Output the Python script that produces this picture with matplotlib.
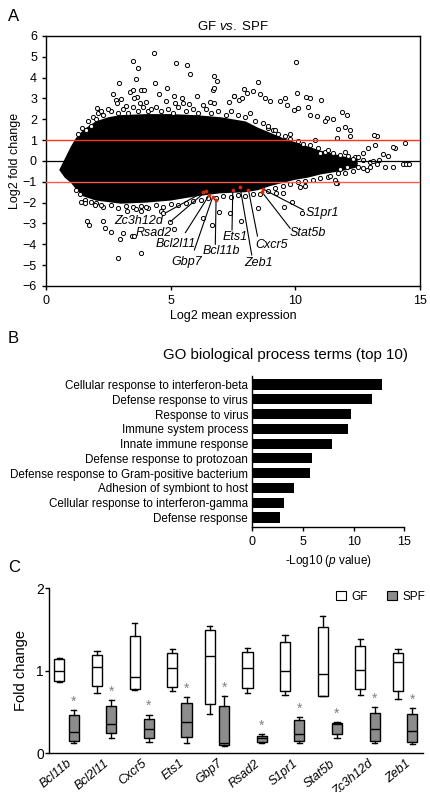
import matplotlib
matplotlib.use("Agg")
import matplotlib.pyplot as plt
from matplotlib.patches import Patch

plt.rcParams['font.family'] = ['Liberation Sans', 'DejaVu Sans']
plt.rcParams['mathtext.fontset'] = 'custom'
plt.rcParams['mathtext.rm'] = 'Liberation Sans'
plt.rcParams['mathtext.it'] = 'Liberation Sans:italic'
plt.rcParams['axes.linewidth'] = 1.0

# ---- Panel A: MA plot ----
# dense core of the cloud (outline)
core_x = [0.53, 0.75, 1.0, 1.2, 1.5, 2.0, 2.5, 3.0, 4.0, 5.0, 6.0, 7.0, 7.5, 8.0, 8.5, 9.0, 9.5,
          10.0, 10.5, 11.0, 11.5, 12.0, 12.5,
          12.5, 12.0, 11.5, 11.0, 10.5, 10.0, 9.5, 9.0, 8.5, 8.0, 7.0, 6.0, 5.0, 4.0, 3.0,
          2.0, 1.5, 1.2, 1.0, 0.75]
core_y = [-0.43, 0.1, 0.7, 1.1, 1.5, 1.9, 2.1, 2.2, 2.25, 2.25, 2.2, 2.1, 2.0, 1.9, 1.6, 1.35, 1.1,
          0.9, 0.7, 0.5, 0.35, 0.2, 0.1,
          -0.3, -0.45, -0.55, -0.65, -0.8, -0.9, -1.05, -1.2, -1.4, -1.5, -1.55, -1.7, -1.9,
          -2.0, -2.05, -1.9, -1.7, -1.35, -1.05, -0.8]

# genes along the ragged edge of the cloud
edge_x = [1.3, 1.45, 1.7, 1.9, 2.1, 2.3, 2.6, 2.9, 3.1, 3.3, 3.5, 3.7, 3.9, 4.1, 4.4, 4.6, 4.9, 5.1,
          5.3, 5.6, 5.9, 6.1, 6.4, 6.6, 6.9, 7.2, 7.4, 7.7, 8.0, 8.2, 8.4, 8.7, 8.9, 9.1, 9.3, 9.6,
          9.8, 10.1, 10.3, 10.6, 10.9, 11.2, 11.5, 11.8, 12.1, 12.4, 12.7, 13.0,
          12.7, 12.3, 12.0, 11.7, 11.3, 11.0, 10.7, 10.4, 10.1, 9.8, 9.5, 9.2, 8.9, 8.6, 8.3, 8.0,
          7.7, 7.4, 7.1, 6.8, 6.5, 6.2, 5.9, 5.6, 5.3, 5.0, 4.7, 4.4, 4.1, 3.8, 3.5, 3.2, 2.9, 2.6,
          2.3, 2.0, 1.8, 1.55, 1.35, 1.2]
edge_y = [1.3, 1.6, 1.9, 2.1, 2.3, 2.2, 2.4, 2.3, 2.5, 2.3, 2.6, 2.4, 2.6, 2.4, 2.6, 2.4, 2.5, 2.3,
          2.6, 2.4, 2.5, 2.3, 2.5, 2.3, 2.4, 2.2, 2.4, 2.2, 2.1, 2.3, 1.9, 1.8, 1.6, 1.5, 1.3, 1.2,
          1.05, 0.95, 0.8, 0.75, 0.6, 0.45, 0.4, 0.3, 0.25, 0.2, 0.05, -0.05,
          -0.35, -0.5, -0.6, -0.6, -0.75, -0.8, -0.9, -0.95, -1.0, -1.1, -1.2, -1.3, -1.45, -1.6,
          -1.6, -1.7, -1.65, -1.75, -1.7, -1.8, -1.8, -1.85, -1.9, -2.0, -2.1, -2.05, -2.2, -2.1,
          -2.25, -2.15, -2.2, -2.15, -2.25, -2.1, -2.2, -2.0, -1.95, -1.85, -1.6, -1.4]

# individual genes outside the cloud
pts_x = [4.34, 3.50, 5.21, 5.67, 3.68, 5.78, 3.61, 6.75, 6.84, 2.91, 4.39, 4.87, 6.68, 6.74, 3.37,
         3.50, 3.81, 3.94, 2.67, 3.64, 3.54, 4.52, 6.04, 5.12, 7.53, 2.81, 3.01, 4.81, 5.19, 5.45,
         5.48, 5.75, 6.58, 6.28, 6.75, 7.33, 2.05, 2.47, 2.83, 3.21, 3.78, 4.01, 4.21,
         10.02, 8.49, 7.94, 8.29, 8.08, 7.54, 8.59, 8.79, 10.05, 8.97, 9.37, 9.57, 10.43, 10.59,
         11.02, 9.65, 7.72, 7.85, 9.95, 10.12, 10.5, 10.6, 10.85, 11.25, 11.86, 12.09, 11.5, 11.2,
         11.7, 12.0, 12.2, 12.2, 13.27, 13.2, 14.0, 14.4,
         13.93, 13.17, 13.5, 13.73, 14.3, 14.44, 14.56, 13.26, 13.6, 13.9, 12.73, 12.53, 11.66,
         11.59, 11.66, 11.0, 11.3, 12.06, 12.86, 13.1, 13.35, 12.3, 12.0, 11.8, 12.5, 13.0, 11.4, 12.9,
         2.87, 3.80, 2.97, 3.45, 3.54, 2.61, 2.38, 1.74, 1.63, 2.27, 3.07, 4.97, 5.12, 6.28, 6.64,
         6.93, 4.61, 4.68, 3.81, 4.01, 3.25, 3.61, 2.21, 1.98, 1.40, 1.58,
         10.26, 9.56, 9.85, 8.52, 7.81, 10.19, 10.39, 11.63, 9.24, 9.51, 7.38,
         1.6, 1.8, 2.0, 2.2, 9.2, 9.8, 10.8, 8.9]
pts_y = [5.17, 4.82, 4.72, 4.59, 4.45, 4.19, 3.95, 4.08, 3.84, 3.76, 3.73, 3.52, 3.41, 3.52, 3.33,
         3.41, 3.40, 3.40, 3.22, 3.09, 3.01, 3.20, 3.12, 3.12, 3.12, 2.93, 2.98, 2.90, 2.80, 3.00,
         2.80, 2.75, 2.85, 2.70, 2.80, 2.85, 2.55, 2.50, 2.80, 2.65, 2.80, 2.85, 2.50,
         4.75, 3.81, 3.46, 3.38, 3.25, 3.14, 3.20, 3.04, 3.25, 2.88, 2.90, 3.04, 3.08, 3.04,
         2.93, 2.69, 2.93, 3.00, 2.45, 2.55, 2.60, 2.20, 2.15, 2.05, 2.37, 2.21, 2.00, 1.90,
         1.54, 1.62, 1.49, 1.20, 1.20, 0.77, 0.64, 0.88,
         0.66, 1.25, 0.32, 0.24, -0.16, -0.16, -0.16, -0.14, -0.27, -0.27, 0.37, 0.21, 1.09,
         -0.91, -1.07, 0.37, 0.53, -0.27, -0.43, 0.0, 0.05, 0.1, 0.45, -0.4, -0.3, -0.3, -0.7, 0.6,
         -4.64, -4.40, -3.76, -3.60, -3.60, -3.42, -3.22, -3.09, -2.86, -2.90, -3.47, -2.91, -3.25,
         -2.75, -3.07, -2.43, -2.38, -2.51, -2.40, -2.20, -2.40, -2.30, -2.10, -2.10, -1.95, -2.00,
         -2.51, -2.19, -1.95, -2.27, -2.88, -1.23, -1.20, -1.07, -1.55, -1.55, -2.51,
         1.5, 1.7, 2.0, 2.4, 1.5, 1.3, 1.0, 1.7]

# highlighted genes (red) and their labels
genes = ['Zc3h12d', 'Rsad2', 'Bcl2l11', 'Gbp7', 'Bcl11b', 'Ets1', 'Zeb1', 'Cxcr5', 'Stat5b', 'S1pr1']
gene_x = [6.30, 6.42, 6.55, 6.69, 6.82, 7.49, 7.78, 8.12, 8.65, 8.72]
gene_y = [-1.50, -1.45, -1.63, -1.71, -1.85, -1.40, -1.23, -1.40, -1.47, -1.36]

label_pos = {'Zc3h12d': ((3.71, -2.87), (4.78, -2.50)),
             'Rsad2': ((4.34, -3.47), (5.00, -2.90)),
             'Bcl2l11': ((5.21, -3.98), (5.59, -3.44)),
             'Gbp7': ((5.65, -4.87), (5.95, -4.27)),
             'Bcl11b': ((7.05, -4.30), (6.79, -4.00)),
             'Ets1': ((7.58, -3.66), (7.46, -3.31)),
             'Zeb1': ((8.52, -4.91), (8.25, -4.51)),
             'Cxcr5': ((9.03, -4.03), (8.48, -3.60)),
             'Stat5b': ((10.52, -3.47), (9.79, -3.23)),
             'S1pr1': ((11.10, -2.48), (10.32, -2.35))}

# ---- Panel B: GO terms ----
go_terms = ['Cellular response to interferon-beta', 'Defense response to virus', 'Response to virus',
            'Immune system process', 'Innate immune response', 'Defense response to protozoan',
            'Defense response to Gram-positive bacterium', 'Adhesion of symbiont to host',
            'Cellular response to interferon-gamma', 'Defense response']
go_logp = [12.8, 11.78, 9.74, 9.48, 7.86, 5.86, 5.66, 4.15, 3.16, 2.76]

# ---- Panel C: qPCR box plots ----
qpcr_genes = ['Bcl11b', 'Bcl2l11', 'Cxcr5', 'Ets1', 'Gbp7', 'Rsad2', 'S1pr1', 'Stat5b', 'Zc3h12d', 'Zeb1']
gf_min = [0.87, 0.73, 0.77, 0.76, 0.48, 0.73, 0.71, 0.69, 0.71, 0.66]
gf_q1 = [0.88, 0.81, 0.78, 0.80, 0.60, 0.79, 0.75, 0.70, 0.78, 0.76]
gf_med = [1.00, 1.05, 0.92, 1.03, 1.18, 1.03, 1.00, 0.96, 1.01, 1.11]
gf_q3 = [1.14, 1.19, 1.42, 1.22, 1.50, 1.23, 1.35, 1.53, 1.30, 1.22]
gf_max = [1.16, 1.24, 1.58, 1.26, 1.54, 1.28, 1.43, 1.66, 1.39, 1.26]
spf_min = [0.12, 0.19, 0.14, 0.12, 0.09, 0.12, 0.13, 0.19, 0.13, 0.11]
spf_q1 = [0.15, 0.24, 0.18, 0.20, 0.10, 0.14, 0.15, 0.23, 0.15, 0.14]
spf_med = [0.26, 0.36, 0.30, 0.38, 0.13, 0.18, 0.23, 0.35, 0.30, 0.27]
spf_q3 = [0.47, 0.57, 0.42, 0.61, 0.57, 0.21, 0.40, 0.37, 0.49, 0.48]
spf_max = [0.53, 0.64, 0.47, 0.68, 0.70, 0.23, 0.44, 0.38, 0.56, 0.55]

fig = plt.figure(figsize=(4.3, 7.92), dpi=100)

# ---------------- A ----------------
axA = fig.add_axes([0.107, 0.6389, 0.8698, 0.3157])
axA.fill(core_x, core_y, color='black', lw=0, zorder=1)
axA.scatter(edge_x, edge_y, s=9, facecolors='white', edgecolors='black', linewidths=0.7, zorder=2)
axA.scatter(pts_x, pts_y, s=9, facecolors='white', edgecolors='black', linewidths=0.7, zorder=2)
axA.axhline(0, color='black', lw=0.9, zorder=3)
axA.axhline(1, color='#ff3318', lw=1.0, zorder=3)
axA.axhline(-1, color='#ff5a4a', lw=1.0, zorder=3)
for g in genes:
    (tx, ty), (sx, sy) = label_pos[g]
    i = genes.index(g)
    axA.plot([sx, gene_x[i]], [sy, gene_y[i]], color='black', lw=0.8, zorder=4)
    axA.text(tx, ty, g, style='italic', fontsize=9, ha='center', va='center', zorder=5)
axA.scatter(gene_x, gene_y, s=3, color='#d8280c', zorder=5)
axA.set_xlim(0, 15)
axA.set_ylim(-6, 6)
axA.set_xticks([0, 5, 10, 15])
axA.set_yticks(range(-6, 7))
axA.tick_params(labelsize=9, length=3, width=1)
axA.set_xlabel('Log2 mean expression', fontsize=9, labelpad=2)
axA.set_ylabel('Log2 fold change', fontsize=9, labelpad=1)
axA.set_title(r'GF $\mathit{vs.}$ SPF', fontsize=9.5, pad=4)
fig.text(0.018, 0.979, 'A', fontsize=12, va='center')

# ---------------- B ----------------
axB = fig.add_axes([0.587, 0.335, 0.3535, 0.1907])
axB.barh(range(len(go_terms)), go_logp, height=0.68, color='black')
axB.set_ylim(9.62, -0.6)
axB.set_xlim(0, 15)
axB.set_xticks([0, 5, 10, 15])
axB.set_yticks(range(len(go_terms)))
axB.set_yticklabels(go_terms, fontsize=8.4)
axB.tick_params(axis='y', length=0, pad=3)
axB.tick_params(axis='x', labelsize=9, length=3, width=1)
axB.spines['top'].set_visible(False)
axB.spines['right'].set_visible(False)
axB.set_xlabel(r'-Log10 ($\mathit{p}$ value)', fontsize=8.5, labelpad=4)
fig.text(0.665, 0.552, 'GO biological process terms (top 10)', fontsize=10.8, ha='center', va='center')
fig.text(0.018, 0.573, 'B', fontsize=12, va='center')

# ---------------- C ----------------
axC = fig.add_axes([0.1147, 0.0489, 0.869, 0.2083])
n = len(qpcr_genes)
gf_stats = [dict(whislo=gf_min[i], q1=gf_q1[i], med=gf_med[i], q3=gf_q3[i], whishi=gf_max[i])
            for i in range(n)]
spf_stats = [dict(whislo=spf_min[i], q1=spf_q1[i], med=spf_med[i], q3=spf_q3[i], whishi=spf_max[i])
             for i in range(n)]
common = dict(widths=0.27, capwidths=0.14, showfliers=False, patch_artist=True,
              medianprops=dict(color='black', lw=1.0),
              whiskerprops=dict(color='black', lw=1.0),
              capprops=dict(color='black', lw=1.0))
axC.bxp(gf_stats, positions=[i - 0.19 for i in range(n)],
        boxprops=dict(facecolor='white', edgecolor='black', lw=1.0), **common)
axC.bxp(spf_stats, positions=[i + 0.19 for i in range(n)],
        boxprops=dict(facecolor='#8c8c8c', edgecolor='black', lw=1.0), **common)
for i in range(n):
    axC.text(i + 0.19, spf_max[i] + 0.1, '*', ha='center', va='center', color='#808080', fontsize=10)
axC.set_xlim(-0.456, 9.475)
axC.set_ylim(0, 2)
axC.set_yticks([0, 1, 2])
axC.set_xticks(range(n))
axC.set_xticklabels(qpcr_genes, rotation=40, ha='right', rotation_mode='anchor',
                    style='italic', fontsize=9)
axC.tick_params(axis='x', length=0, pad=3)
axC.tick_params(axis='y', labelsize=10, length=3, width=1, pad=1)
axC.spines['top'].set_visible(False)
axC.spines['right'].set_visible(False)
axC.set_ylabel('Fold change', fontsize=10.5, labelpad=6)
handles = [Patch(facecolor='white', edgecolor='black', lw=0.8, label='GF'),
           Patch(facecolor='#8c8c8c', edgecolor='black', lw=0.8, label='SPF')]
axC.legend(handles=handles, ncol=2, loc='upper right', bbox_to_anchor=(1.035, 1.05), frameon=False,
           fontsize=8.5, handlelength=0.8, handleheight=0.8, handletextpad=0.5, columnspacing=1.6)
fig.text(0.018, 0.283, 'C', fontsize=12, va='center')

fig.savefig('out.png', dpi=100)
